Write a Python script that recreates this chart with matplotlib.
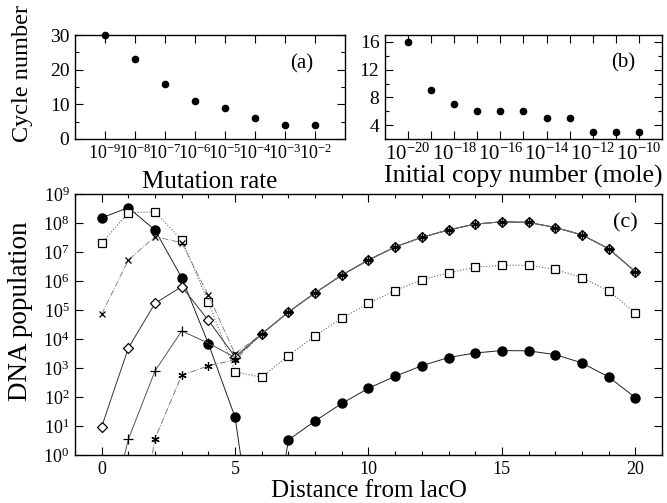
import matplotlib
matplotlib.use("Agg")
import matplotlib.pyplot as plt
import numpy as np
from matplotlib.ticker import LogLocator, MultipleLocator, NullFormatter, FixedLocator

plt.rcParams["font.family"] = ["Liberation Serif", "DejaVu Serif"]
plt.rcParams["mathtext.fontset"] = "custom"
plt.rcParams["mathtext.rm"] = "Liberation Serif"
plt.rcParams["mathtext.it"] = "Liberation Serif:italic"

# (a) cycle number vs mutation rate
mut_rate = [1e-9, 1e-8, 1e-7, 1e-6, 1e-5, 1e-4, 1e-3, 1e-2]
cyc_a = [30, 23, 16, 11, 9, 6, 4, 4]
a_xticklabels = [r"$10^{-9}$", r"$10^{-8}$", r"$10^{-7}$", r"$10^{-6}$",
                 r"$10^{-5}$", r"$10^{-4}$", r"$10^{-3}$", r"$10^{-2}$"]

# (b) cycle number vs initial copy number
copy_num = [1e-20, 1e-19, 1e-18, 1e-17, 1e-16, 1e-15, 1e-14, 1e-13, 1e-12, 1e-11, 1e-10]
cyc_b = [16, 9, 7, 6, 6, 6, 5, 5, 3, 3, 3]
b_xticks = [1e-20, 1e-18, 1e-16, 1e-14, 1e-12, 1e-10]
b_xticklabels = [r"$10^{-20}$", r"$10^{-18}$", r"$10^{-16}$",
                 r"$10^{-14}$", r"$10^{-12}$", r"$10^{-10}$"]

# (c) DNA population vs distance from lacO
dist = list(range(21))
circ_y = [1.5e8, 3.4e8, 5.7e7, 1.3e6, 6.9e3, 20, 1e-5, 3.3, 15, 60, 200, 520,
          1.2e3, 2.3e3, 3.3e3, 4e3, 3.9e3, 2.9e3, 1.5e3, 490, 96]
square_y = [2e7, 2.3e8, 2.4e8, 2.6e7, 1.9e5, 730, 480, 2.7e3, 1.3e4, 5.2e4, 1.7e5,
            4.7e5, 1.1e6, 1.9e6, 3e6, 3.5e6, 3.5e6, 2.5e6, 1.3e6, 4.6e5, 7.8e4]
# shared tail (x = 6..20) of the four overlapping curves
tail_y = [1.5e4, 8.5e4, 3.9e5, 1.6e6, 5.3e6, 1.5e7, 3.2e7, 5.8e7, 9.2e7,
          1.1e8, 1.05e8, 7e7, 3.9e7, 1.3e7, 2.1e6]
cross_y = [7.2e4, 5.3e6, 3.4e7, 2.1e7, 3.2e5, 3.1e3] + tail_y
diam_y = [9.4, 4.9e3, 1.7e5, 6.4e5, 4.4e4, 2.4e3] + tail_y
plus_y = [5e-4, 3.5, 790, 1.9e4, 7.2e3, 2.3e3] + tail_y
star_x = list(range(1, 21))
star_y = [2e-5, 3.7, 560, 1.2e3, 1.9e3] + tail_y
c_yticks = [10.0 ** k for k in range(10)]
c_yticklabels = [rf"$10^{{{k}}}$" for k in range(10)]

fig = plt.figure(figsize=(6.67, 5.03), dpi=100)
ax_a = fig.add_axes([0.1124, 0.7237, 0.4048, 0.2067])
ax_b = fig.add_axes([0.5772, 0.7237, 0.4153, 0.2067])
ax_c = fig.add_axes([0.1124, 0.0954, 0.8801, 0.5189])

for ax in (ax_a, ax_b, ax_c):
    ax.tick_params(which="both", direction="in", top=True, right=True, labelsize=13,
                   width=0.8, pad=4)
    ax.tick_params(which="major", length=6)
    ax.tick_params(which="minor", length=3)
    for s in ax.spines.values():
        s.set_linewidth(1.0)

# (a)
ax_a.plot(mut_rate, cyc_a, "o", color="black", ms=4.5, clip_on=False, zorder=3)
ax_a.set_xscale("log")
ax_a.set_xlim(1e-10, 1e-1)
ax_a.set_ylim(0, 30)
ax_a.xaxis.set_major_locator(FixedLocator(mut_rate))
ax_a.set_xticklabels(a_xticklabels)
ax_a.xaxis.set_minor_locator(FixedLocator([]))
ax_a.xaxis.set_minor_formatter(NullFormatter())
ax_a.yaxis.set_major_locator(MultipleLocator(10))
ax_a.yaxis.set_minor_locator(MultipleLocator(5))
ax_a.tick_params(axis="x", pad=3, labelsize=13)
ax_a.tick_params(axis="y", labelsize=14)
ax_a.set_xlabel("Mutation rate", fontsize=18)
ax_a.xaxis.set_label_coords(0.5, -0.31)
ax_a.set_ylabel("Cycle number", fontsize=17.5)
ax_a.yaxis.set_label_coords(-0.156, 0.63)
ax_a.text(0.84, 0.72, "(a)", transform=ax_a.transAxes, fontsize=15,
          ha="center", va="center")

# (b)
ax_b.plot(copy_num, cyc_b, "o", color="black", ms=4.5, clip_on=False, zorder=3)
ax_b.set_xscale("log")
ax_b.set_xlim(1e-21, 1e-9)
ax_b.set_ylim(2, 17)
ax_b.xaxis.set_major_locator(FixedLocator(b_xticks))
ax_b.set_xticklabels(b_xticklabels)
ax_b.xaxis.set_minor_locator(FixedLocator([c for c in copy_num if c not in b_xticks]))
ax_b.xaxis.set_minor_formatter(NullFormatter())
ax_b.tick_params(axis="x", which="minor", length=6)
ax_b.tick_params(axis="x", labelsize=15, pad=3)
ax_b.tick_params(axis="y", labelsize=14)
ax_b.yaxis.set_major_locator(MultipleLocator(4))
ax_b.yaxis.set_minor_locator(MultipleLocator(2))
ax_b.set_xlabel("Initial copy number (mole)", fontsize=18.5)
ax_b.xaxis.set_label_coords(0.5, -0.25)
ax_b.text(0.86, 0.73, "(b)", transform=ax_b.transAxes, fontsize=15,
          ha="center", va="center")

# (c)
ax_c.set_yscale("log")
ax_c.plot(dist, circ_y, "-o", color="#222222", lw=0.7, ms=6.5, mfc="black", mec="black")
ax_c.plot(dist, square_y, ":s", color="#666666", lw=0.8, ms=5.5, mfc="white", mec="black", mew=0.9)
ax_c.plot(dist, cross_y, "-.x", color="#888888", lw=0.7, ms=5, mec="black", mew=0.9)
ax_c.plot(dist, diam_y, "-D", color="#333333", lw=0.7, ms=5, mfc="white", mec="black", mew=0.9)
ax_c.plot(dist, plus_y, "-+", color="#555555", lw=0.7, ms=7, mec="black", mew=0.9)
ax_c.plot(star_x, star_y, "-.", color="#777777", lw=0.7, marker=(6, 2, 0), ms=6,
          mec="black", mew=0.9)
ax_c.set_xlim(-1, 21)
ax_c.set_ylim(1, 1e9)
ax_c.xaxis.set_major_locator(MultipleLocator(5))
ax_c.xaxis.set_minor_locator(MultipleLocator(1))
ax_c.set_yticks(c_yticks)
ax_c.set_yticklabels(c_yticklabels)
ax_c.yaxis.set_minor_locator(LogLocator(base=10, subs=np.arange(2, 10)))
ax_c.yaxis.set_minor_formatter(NullFormatter())
ax_c.set_xlabel("Distance from lacO", fontsize=18)
ax_c.xaxis.set_label_coords(0.5, -0.095)
ax_c.set_ylabel("DNA population", fontsize=19.5)
ax_c.yaxis.set_label_coords(-0.0716, 0.55)
ax_c.text(0.937, 0.889, "(c)", transform=ax_c.transAxes, fontsize=16,
          ha="center", va="center")

fig.savefig("out.png", dpi=100)
